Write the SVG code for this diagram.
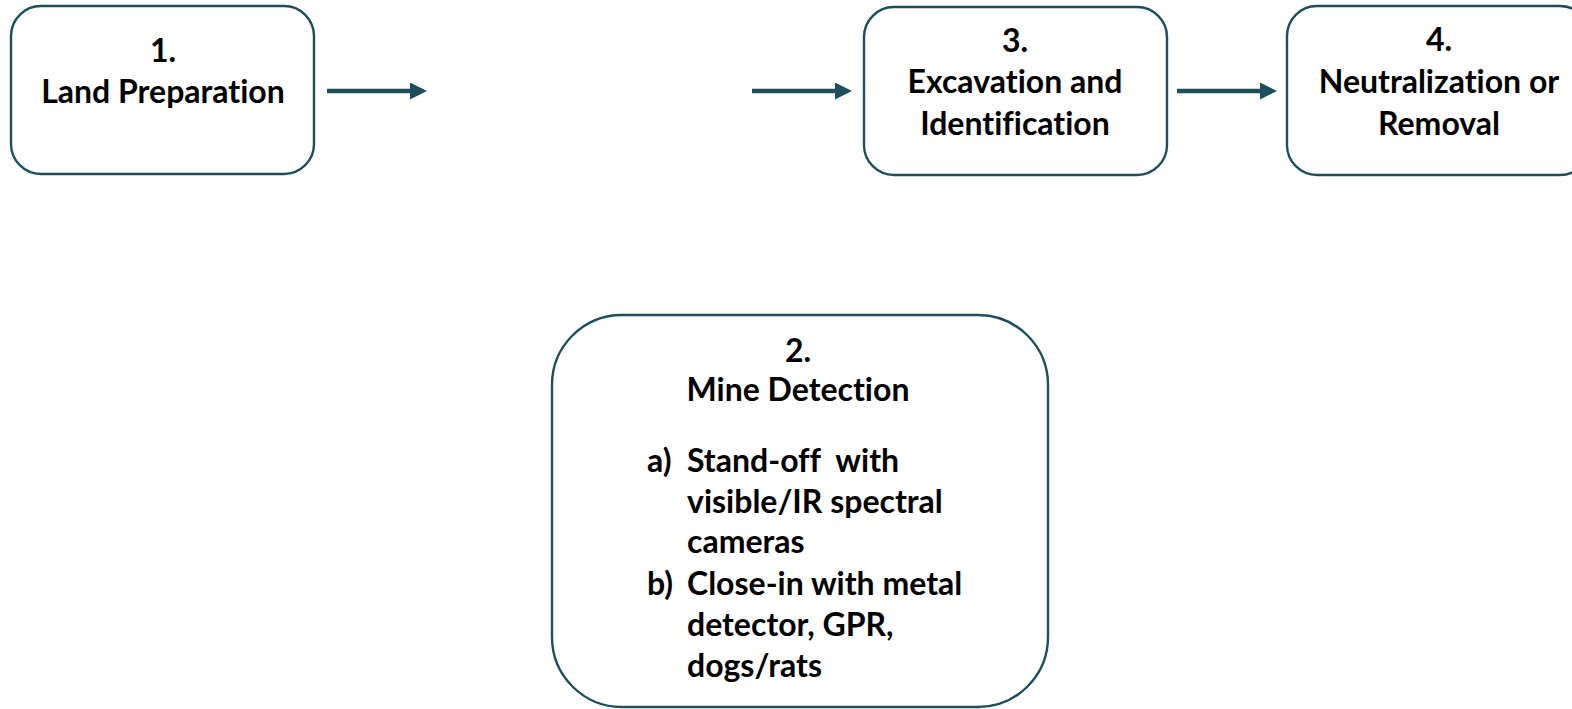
<svg xmlns="http://www.w3.org/2000/svg" width="1572" height="709" viewBox="0 0 1572 709">
  <defs>
    <style>
      .box { fill: #ffffff; stroke: #1f4e5b; stroke-width: 2.4; }
      .lbl { font-family: Lato, "Open Sans", "Liberation Sans", sans-serif; font-weight: 700; font-size: 32px; fill: #000000; font-variant-ligatures: none; white-space: pre; }
      .mid { text-anchor: middle; }
      .link { stroke: #1f4e5b; stroke-width: 4.5; fill: none; marker-end: url(#head); }
    </style>
    <marker id="head" viewBox="0 0 10 10" refX="0" refY="5" markerUnits="userSpaceOnUse" markerWidth="18" markerHeight="17" orient="auto">
      <path d="M0,0 L10,5 L0,10 Z" fill="#1f4e5b"/>
    </marker>
  </defs>
  <rect width="1572" height="709" fill="#ffffff"/>

  <g id="connectors">
    <line class="link" x1="327" y1="91" x2="410" y2="91"/>
    <line class="link" x1="752" y1="91" x2="835" y2="91"/>
    <line class="link" x1="1177" y1="91" x2="1260" y2="91"/>
  </g>

  <g id="node-1">
    <rect class="box" x="11" y="6" width="303" height="168" rx="30" ry="30"/>
    <text class="lbl mid" x="163" y="62">1.</text>
    <text class="lbl mid" x="163" y="103">Land Preparation</text>
  </g>

  <g id="node-3">
    <rect class="box" x="864" y="7" width="303" height="168" rx="30" ry="30"/>
    <text class="lbl mid" x="1015" y="52">3.</text>
    <text class="lbl mid" x="1015" y="93">Excavation and</text>
    <text class="lbl mid" x="1015" y="135">Identification</text>
  </g>

  <g id="node-4">
    <rect class="box" x="1287" y="6" width="303" height="169" rx="30" ry="30"/>
    <text class="lbl mid" x="1439" y="51">4.</text>
    <text class="lbl mid" x="1439" y="93">Neutralization or</text>
    <text class="lbl mid" x="1439" y="135">Removal</text>
  </g>

  <g id="node-2">
    <rect class="box" x="552" y="315" width="496" height="392" rx="70" ry="70"/>
    <text class="lbl mid" x="798" y="362">2.</text>
    <text class="lbl mid" x="798" y="401">Mine Detection</text>
    <text class="lbl" x="647" y="472">a)</text>
    <text class="lbl" x="687" y="472" xml:space="preserve">Stand-off  with</text>
    <text class="lbl" x="687" y="513">visible/IR spectral</text>
    <text class="lbl" x="687" y="553">cameras</text>
    <text class="lbl" x="647" y="595">b)</text>
    <text class="lbl" x="687" y="595">Close-in with metal</text>
    <text class="lbl" x="687" y="636">detector, GPR,</text>
    <text class="lbl" x="687" y="677">dogs/rats</text>
  </g>
</svg>
